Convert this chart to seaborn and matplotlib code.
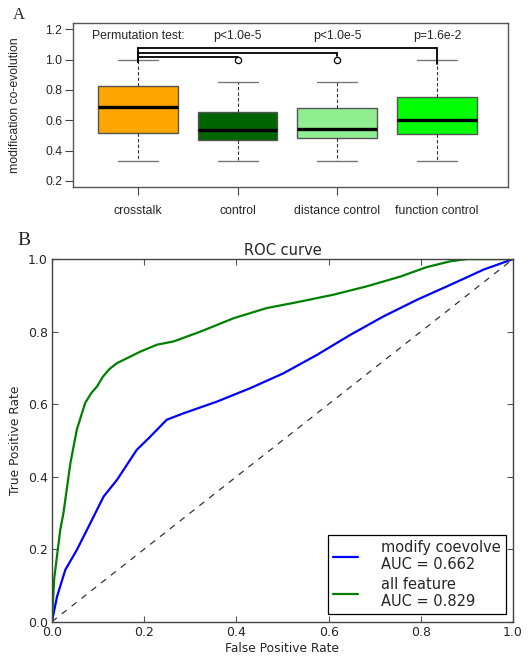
import numpy as np
import pandas as pd
import matplotlib
matplotlib.use('Agg')
import matplotlib.pyplot as plt
import seaborn as sns

# Panel A: box summaries
groups = ['crosstalk', 'control', 'distance control', 'function control']
box_colors = ['#FFA500', '#006400', '#90EE90', '#00FF00']
whis_lo = [0.335, 0.335, 0.335, 0.335]
q1 = [0.515, 0.470, 0.480, 0.512]
median = [0.686, 0.534, 0.540, 0.604]
q3 = [0.825, 0.652, 0.684, 0.752]
whis_hi = [1.0, 0.85, 0.85, 1.0]
outlier_groups = ['control', 'distance control']
outlier_vals = [1.0, 1.0]

# permutation tests (crosstalk vs others)
test_groups = ['control', 'distance control', 'function control']
test_labels = ['p<1.0e-5', 'p<1.0e-5', 'p=1.6e-2']
bracket_h = [1.017, 1.046, 1.077]
bracket_end = [1.017, 1.025, 0.97]

# Panel B: ROC curves
fpr_cov = [0.0, 0.011, 0.029, 0.054, 0.083, 0.112, 0.141, 0.184, 0.213, 0.249,
           0.286, 0.358, 0.430, 0.502, 0.575, 0.647, 0.719, 0.792, 0.864, 0.936, 1.0]
tpr_cov = [0.0, 0.069, 0.143, 0.198, 0.271, 0.345, 0.391, 0.474, 0.510, 0.557,
           0.575, 0.607, 0.644, 0.685, 0.736, 0.791, 0.842, 0.888, 0.929, 0.971, 1.0]
fpr_all = [0.0, 0.005, 0.018, 0.025, 0.040, 0.054, 0.072, 0.085, 0.098, 0.110, 0.125,
           0.141, 0.165, 0.192, 0.228, 0.264, 0.322, 0.394, 0.466, 0.539, 0.611,
           0.683, 0.756, 0.813, 0.864, 0.900, 1.0]
tpr_all = [0.0, 0.12, 0.253, 0.300, 0.437, 0.530, 0.603, 0.630, 0.649, 0.675, 0.697,
           0.713, 0.728, 0.745, 0.764, 0.773, 0.800, 0.837, 0.865, 0.883, 0.902,
           0.925, 0.952, 0.978, 0.994, 1.0, 1.0]
auc_cov = 0.662
auc_all = 0.829

sns.set_style('ticks')
plt.rcParams['font.family'] = ['Liberation Sans', 'DejaVu Sans']

fig = plt.figure(figsize=(5.3, 6.61), dpi=100)

# ---------------- Panel A ----------------
fsA = 8.8
ax1 = fig.add_axes([0.138, 0.717, 0.820, 0.248])
rows = []
for g, a, b, c, d, e in zip(groups, whis_lo, q1, median, q3, whis_hi):
    for v in (a, b, c, d, e):
        rows.append({'group': g, 'value': v})
df = pd.DataFrame(rows)

sns.boxplot(data=df, x='group', y='value', hue='group', order=groups,
            hue_order=groups, palette=box_colors, saturation=1, whis=(0, 100),
            width=0.8, showfliers=False, legend=False, linecolor='#555555',
            linewidth=1.0,
            medianprops=dict(color='black', linewidth=2.4),
            whiskerprops=dict(linestyle=(0, (3, 2)), color='#333333', linewidth=0.8),
            capprops=dict(color='#777777', linewidth=1.0),
            ax=ax1)

ox = [groups.index(g) for g in outlier_groups]
ax1.plot(ox, outlier_vals, 'o', mfc='none', mec='black', ms=4.5, mew=0.9)

for g, h, e, lab in zip(test_groups, bracket_h, bracket_end, test_labels):
    j = groups.index(g)
    ax1.plot([0, 0, j, j], [0.985, h, h, e], color='black', lw=1.3,
             solid_joinstyle='miter')
    ax1.text(j, 1.155, lab, ha='center', va='center', fontsize=fsA)
ax1.text(0, 1.155, 'Permutation test:', ha='center', va='center', fontsize=fsA)

ax1.set_xlim(-0.65, 3.71)
ax1.set_ylim(0.16, 1.24)
ax1.set_yticks([0.2, 0.4, 0.6, 0.8, 1.0, 1.2])
ax1.set_yticklabels(['0.2', '0.4', '0.6', '0.8', '1.0', '1.2'])
ax1.set_xlabel('')
ax1.set_ylabel('modification co-evolution', fontsize=fsA, labelpad=17)
ax1.tick_params(axis='x', direction='out', length=6, pad=7, labelsize=fsA,
                color='#444444')
ax1.tick_params(axis='y', direction='out', length=6, pad=2, labelsize=fsA,
                color='#444444')
for s in ax1.spines.values():
    s.set_visible(True)
    s.set_color('#555555')
    s.set_linewidth(1.0)

fig.text(0.024, 0.977, 'A', family='Liberation Serif', fontsize=12,
         ha='left', va='center')

# ---------------- Panel B ----------------
ax2 = fig.add_axes([0.098, 0.0595, 0.870, 0.5485])
roc = pd.concat([
    pd.DataFrame({'fpr': fpr_cov, 'tpr': tpr_cov,
                  'model': 'modify coevolve\nAUC = %.3f' % auc_cov}),
    pd.DataFrame({'fpr': fpr_all, 'tpr': tpr_all,
                  'model': 'all feature\nAUC = %.3f' % auc_all}),
])
ax2.plot([0, 1], [0, 1], color='black', lw=0.9, ls=(0, (5, 5)), alpha=0.8)
sns.lineplot(data=roc, x='fpr', y='tpr', hue='model', sort=False,
             estimator=None, palette=['blue', 'green'], linewidth=1.6,
             ax=ax2)

fam = ['DejaVu Sans']
ax2.set_xlim(0, 1)
ax2.set_ylim(0, 1)
ax2.set_xticks(np.arange(0, 1.01, 0.2))
ax2.set_yticks(np.arange(0, 1.01, 0.2))
ax2.set_xticklabels(['%.1f' % v for v in np.arange(0, 1.01, 0.2)], family=fam)
ax2.set_yticklabels(['%.1f' % v for v in np.arange(0, 1.01, 0.2)], family=fam)
ax2.tick_params(direction='in', top=True, right=True, length=4, labelsize=9,
                pad=3, color='#555555')
ax2.set_xlabel('False Positive Rate', fontsize=8.8, family=fam, labelpad=2)
ax2.set_ylabel('True Positive Rate', fontsize=8.8, family=fam, labelpad=4)
ax2.set_title('ROC curve', fontsize=10.5, family=fam, pad=3)
for s in ax2.spines.values():
    s.set_visible(True)
    s.set_color('#444444')
    s.set_linewidth(1.0)

leg = ax2.legend(loc='lower right', fancybox=False, framealpha=1,
                 edgecolor='black', prop={'family': fam, 'size': 10.5},
                 handlelength=1.7, labelspacing=0.3, borderpad=0.35,
                 borderaxespad=0.5, handletextpad=1.6)
leg.get_frame().set_linewidth(0.9)

fig.text(0.032, 0.636, 'B', family='Liberation Serif', fontsize=14,
         ha='left', va='center')

fig.savefig('out.png', dpi=100)
